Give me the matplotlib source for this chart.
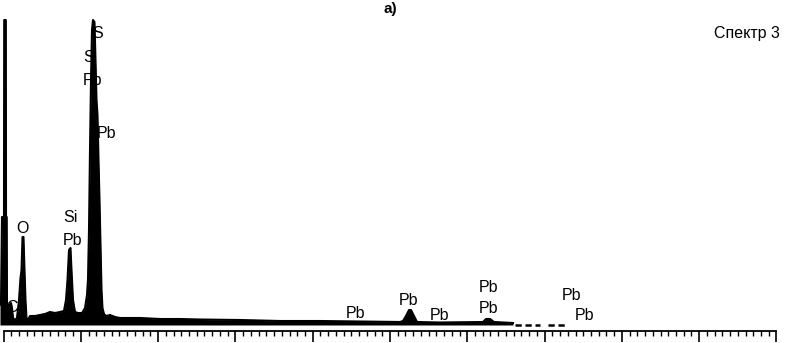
import matplotlib
matplotlib.use("Agg")
import matplotlib.pyplot as plt
import numpy as np

plt.rcParams['font.family'] = ['Liberation Sans', 'DejaVu Sans']

# спектр: энергия (кэВ) и интенсивность (отн. ед.)
energy = [-0.091, -0.065, -0.039, 0.013, 0.018, 0.060, 0.065, 0.083, 0.091, 0.116,
          0.142, 0.194, 0.220, 0.246, 0.298, 0.349, 0.401, 0.440, 0.466, 0.492,
          0.517, 0.543, 0.569, 0.595, 0.634, 0.686, 0.815, 0.944, 1.074, 1.203,
          1.332, 1.462, 1.565, 1.617, 1.656, 1.695, 1.733, 1.759, 1.798, 1.850,
          1.927, 2.031, 2.109, 2.160, 2.186, 2.212, 2.238, 2.264, 2.290, 2.316,
          2.354, 2.380, 2.406, 2.432, 2.458, 2.484, 2.510, 2.536, 2.561, 2.600,
          2.652, 2.755, 2.885, 3.014, 3.532, 4.049, 4.567, 5.084, 6.119, 7.154,
          8.189, 9.224, 10.259, 10.336, 10.414, 10.492, 10.543, 10.621, 10.699, 11.294,
          12.406, 12.484, 12.588, 12.691, 13.182]
counts = [25, 20, 108, 108, 305, 305, 108, 108, 15, 7,
          19, 22, 17, 7, 5, 7, 25, 47, 55, 88,
          88, 55, 25, 7, 5, 9, 9, 10, 11, 13,
          12, 13, 14, 25, 45, 75, 77, 55, 25, 13,
          12, 12, 17, 30, 45, 95, 175, 245, 295, 305,
          303, 265, 225, 210, 165, 125, 80, 35, 17, 11,
          9, 10, 8, 7, 7, 6, 6, 5.5, 5, 4,
          4, 3.5, 3, 4, 9, 15, 15, 9, 3, 2.5,
          3, 6, 6, 3, 2]

# хвост спектра (прерывистый)
tail_segments = [(13.23, 13.88), (14.09, 14.58)]

# подписи линий: текст, энергия, высота базовой линии текста
peak_labels = [("S", 2.432, 287), ("S", 2.212, 263), ("Pb", 2.303, 240),
               ("Pb", 2.665, 187), ("Si", 1.721, 103), ("Pb", 1.785, 80),
               ("O", 0.479, 92), ("C", 0.220, 13), ("Pb", 9.095, 7),
               ("Pb", 10.466, 20), ("Pb", 11.268, 5), ("Pb", 12.561, 33),
               ("Pb", 12.561, 12), ("Pb", 14.696, 25), ("Pb", 15.020, 5)]

fig = plt.figure(figsize=(7.85, 3.43), dpi=100)
ax = fig.add_axes([0, 12 / 343, 1, 331 / 343])

ax.fill_between(energy, counts, 0, color='black', linewidth=0)
ax.plot(energy, counts, color='black', linewidth=1.5)
for a, b in tail_segments:
    ax.plot([a, b], [0.5, 0.5], color='black', linewidth=1.8, linestyle=(0, (2.5, 1.5)))

for txt, x, y in peak_labels:
    ax.text(x, y, txt, ha='center', va='baseline', fontsize=11.5)

ax.text(20.09, 287, "Спектр 3", ha='right', va='baseline', fontsize=11.5)
ax.text(10.0, 312, "a)", ha='center', va='baseline', fontsize=11, fontweight='bold')

ax.set_xlim(-0.0906, 20.22)
ax.set_ylim(-6, 325)
for s in ['left', 'right', 'top']:
    ax.spines[s].set_visible(False)
ax.spines['bottom'].set_bounds(0, 20)
ax.spines['bottom'].set_linewidth(1.3)
ax.set_xticks(np.arange(0, 21, 2))
ax.set_xticks(np.arange(0, 20.01, 0.2), minor=True)
ax.tick_params(axis='x', which='major', direction='out', length=8, width=1.2, labelbottom=False)
ax.tick_params(axis='x', which='minor', direction='out', length=3.6, width=1.0)
ax.set_yticks([])

fig.savefig("out.png", dpi=100)
